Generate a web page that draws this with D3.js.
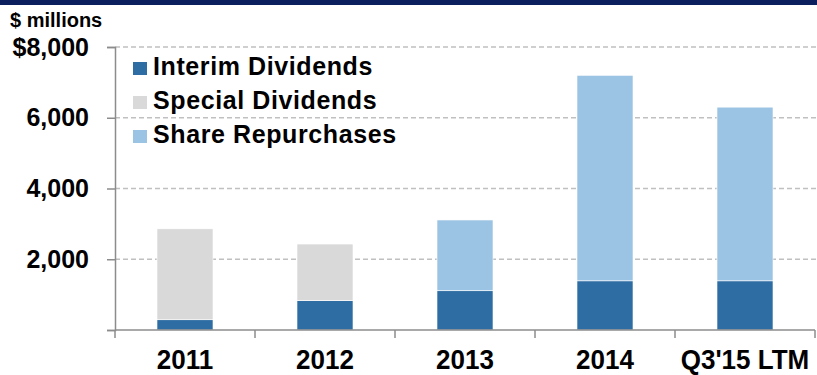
<!DOCTYPE html>
<html>
<head>
<meta charset="utf-8">
<script src="https://cdn.jsdelivr.net/npm/d3@7"></script>
<style>
  html, body { margin: 0; padding: 0; background: #fff; }
  svg { display: block; font-family: "Liberation Sans", Arial, sans-serif; }
</style>
</head>
<body>
<svg id="chart" width="817" height="375"></svg>
<script>
const categories = ["2011", "2012", "2013", "2014", "Q3'15 LTM"];
const seriesNames = ["Interim Dividends", "Special Dividends", "Share Repurchases"];
const interimDividends = [290, 830, 1110, 1390, 1390];
const specialDividends = [2570, 1600, 0, 0, 0];
const shareRepurchases = [0, 0, 2000, 5810, 4910];
const yTicks = [0, 2000, 4000, 6000, 8000];
const colors = ["#2e6da4", "#d9d9d9", "#9bc3e3"];

const svg = d3.select("#chart");
const W = 817, H = 375;

// top band
svg.append("rect").attr("x", 0).attr("y", 0).attr("width", W).attr("height", 5).attr("fill", "#0b1f5e");

const x = d3.scaleBand().domain(categories).range([115, 815]).paddingInner(0.6).paddingOuter(0.3);
const y = d3.scaleLinear().domain([0, 8000]).range([330, 47]);

// gridlines
svg.append("g").selectAll("line").data(yTicks.filter(d => d > 0)).join("line")
  .attr("x1", 115).attr("x2", W)
  .attr("y1", d => y(d)).attr("y2", d => y(d))
  .attr("stroke", "#c0c0c0").attr("stroke-width", 1.3).attr("stroke-dasharray", "5,3");

// stacked bars
const rows = categories.map((c, i) => ({cat: c, interim: interimDividends[i], special: specialDividends[i], repo: shareRepurchases[i]}));
const stack = d3.stack().keys(["interim", "special", "repo"])(rows);
svg.append("g").selectAll("g").data(stack).join("g")
  .attr("fill", (d, i) => colors[i])
  .selectAll("rect").data(d => d.filter(s => s[1] - s[0] > 0)).join("rect")
  .attr("x", d => x(d.data.cat))
  .attr("width", x.bandwidth())
  .attr("y", d => y(d[1]))
  .attr("height", d => y(d[0]) - y(d[1]))
  .attr("stroke", "#ffffff").attr("stroke-width", 0.6);

// y axis
const yAxis = d3.axisLeft(y).tickValues(yTicks).tickSize(8).tickPadding(18)
  .tickFormat(d => d === 0 ? "" : (d === 8000 ? "$" : "") + d3.format(",")(d));
const gy = svg.append("g").attr("transform", "translate(115,0)").call(yAxis);
gy.select(".domain").attr("stroke", "#8c8c8c").attr("stroke-width", 1.5);
gy.selectAll(".tick line").attr("stroke", "#8c8c8c").attr("stroke-width", 1.5);
gy.selectAll(".tick text").attr("font-size", 25).attr("font-weight", "bold").attr("fill", "#000")
  .attr("font-family", "Liberation Sans, Arial, sans-serif");

// x axis
const gx = svg.append("g").attr("transform", "translate(0,330)");
gx.append("line").attr("x1", 115).attr("x2", 815).attr("y1", 0).attr("y2", 0)
  .attr("stroke", "#8c8c8c").attr("stroke-width", 1.5);
const bounds = [x.range()[0]].concat(categories.map(c => x(c) - x.step() * x.paddingInner() / 2 + x.step()));
gx.selectAll("line.tk").data(bounds).join("line").attr("class", "tk")
  .attr("x1", d => d).attr("x2", d => d).attr("y1", 0).attr("y2", 8)
  .attr("stroke", "#8c8c8c").attr("stroke-width", 1.5);
gx.selectAll("text").data(categories).join("text")
  .attr("transform", d => `translate(${x(d) + x.bandwidth() / 2},38.5) scale(1,1.06)`)
  .attr("text-anchor", "middle").attr("font-size", 26).attr("font-weight", "bold").attr("fill", "#000")
  .text(d => d);

// unit label
svg.append("text").attr("x", 10).attr("y", 27).attr("font-size", 20).attr("font-weight", "bold").attr("fill", "#000")
  .text("$ millions");

// legend
const lg = svg.append("g").selectAll("g").data(seriesNames).join("g")
  .attr("transform", (d, i) => `translate(133,${75 + i * 34})`);
lg.append("rect").attr("x", 0).attr("y", -13).attr("width", 14).attr("height", 13).attr("fill", (d, i) => colors[i]);
lg.append("text").attr("x", 20).attr("y", 0).attr("font-size", 25).attr("font-weight", "bold")
  .attr("letter-spacing", 0.6).attr("fill", "#000").text(d => d);
</script>
</body>
</html>
